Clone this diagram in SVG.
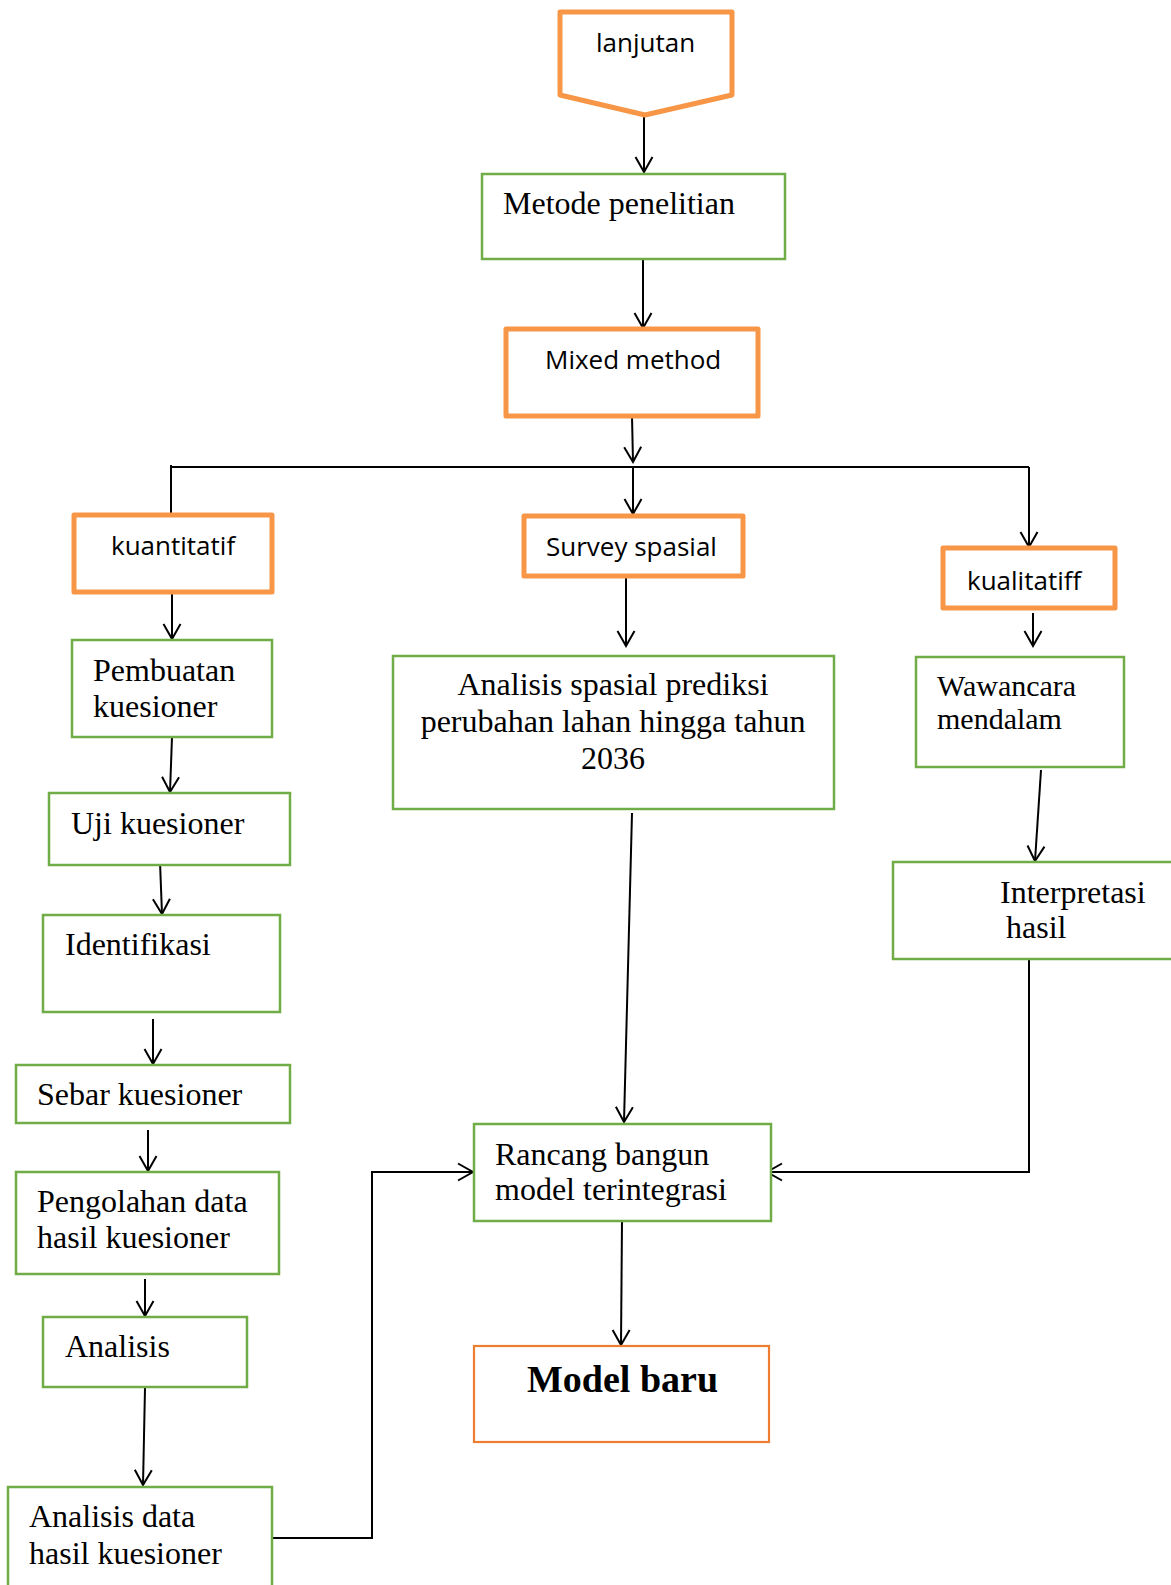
<svg xmlns="http://www.w3.org/2000/svg" width="1171" height="1585" viewBox="0 0 1171 1585">
<defs>
<style>
.bg{fill:#ffffff}
.org{fill:#ffffff;stroke:#F79646;stroke-width:5;stroke-linejoin:round}
.org2{fill:#ffffff;stroke:#ED7D31;stroke-width:2.2}
.grn{fill:#ffffff;stroke:#70AD47;stroke-width:2.5}
.cal{font-family:"Open Sans","Liberation Sans",sans-serif;font-size:26px;fill:#000}
.tnr{font-family:"Liberation Serif","Times New Roman",serif;font-size:32px;fill:#000}
.tnrs{font-family:"Liberation Serif","Times New Roman",serif;font-size:30px;fill:#000}
.bold{font-family:"Liberation Serif","Times New Roman",serif;font-size:38px;font-weight:bold;fill:#000}
.ln{fill:none;stroke:#000;stroke-width:2}
.ar{fill:none;stroke:#000;stroke-width:2;marker-end:url(#arr)}
</style>
<marker id="arr" markerUnits="userSpaceOnUse" viewBox="-17 -10 19 20" markerWidth="19" markerHeight="20" refX="0" refY="0" orient="auto">
<path d="M-15,-8.5 L0,0 L-15,8.5" fill="none" stroke="#000" stroke-width="2"/>
</marker>
</defs>
<rect class="bg" x="0" y="0" width="1171" height="1585"/>

<g id="connectors">
<line class="ar" x1="644" y1="115" x2="644" y2="172"/>
<line class="ar" x1="643" y1="259" x2="643" y2="328"/>
<line class="ar" x1="632" y1="416" x2="633" y2="462"/>
<line class="ln" x1="171" y1="467" x2="1029" y2="467"/>
<line class="ln" x1="171" y1="465" x2="171" y2="513"/>
<line class="ar" x1="633" y1="467" x2="633" y2="514"/>
<line class="ar" x1="1029" y1="467" x2="1029" y2="547"/>
<line class="ar" x1="172" y1="592" x2="172" y2="639"/>
<line class="ar" x1="626" y1="576" x2="626" y2="646"/>
<line class="ar" x1="1033" y1="613" x2="1033" y2="646"/>
<line class="ar" x1="172" y1="737" x2="170" y2="792"/>
<line class="ar" x1="160" y1="862" x2="162" y2="914"/>
<line class="ar" x1="153" y1="1019" x2="153" y2="1064"/>
<line class="ar" x1="148" y1="1130" x2="148" y2="1171"/>
<line class="ar" x1="145" y1="1279" x2="145" y2="1316"/>
<line class="ar" x1="145" y1="1388" x2="143" y2="1485"/>
<line class="ar" x1="1041" y1="770" x2="1035" y2="861"/>
<line class="ar" x1="632" y1="813" x2="624" y2="1122"/>
<polyline class="ar" points="1029,959 1029,1172 767,1172"/>
<polyline class="ar" points="272,1538 372,1538 372,1172 473,1172"/>
<line class="ar" x1="622" y1="1221" x2="621" y2="1345"/>
</g>

<g id="lanjutan">
<polygon class="org" points="560,12 732,12 732,95 645,115 560,95"/>
<text class="cal" x="596" y="52">lanjutan</text>
</g>
<g id="metode">
<rect class="grn" x="482" y="174" width="303" height="85"/>
<text class="tnr" x="503" y="214">Metode penelitian</text>
</g>
<g id="mixed">
<rect class="org" x="506" y="329" width="252" height="87"/>
<text class="cal" x="545" y="369">Mixed method</text>
</g>
<g id="kuantitatif">
<rect class="org" x="74" y="515" width="198" height="77"/>
<text class="cal" x="111" y="555">kuantitatif</text>
</g>
<g id="survey">
<rect class="org" x="524" y="516" width="219" height="60"/>
<text class="cal" x="546" y="556">Survey spasial</text>
</g>
<g id="kualitatiff">
<rect class="org" x="943" y="548" width="172" height="60"/>
<text class="cal" x="967" y="590">kualitatiff</text>
</g>
<g id="pembuatan">
<rect class="grn" x="72" y="640" width="200" height="97"/>
<text class="tnr" x="93" y="681">Pembuatan</text>
<text class="tnr" x="93" y="717">kuesioner</text>
</g>
<g id="analisis-spasial">
<rect class="grn" x="393" y="656" width="441" height="153"/>
<text class="tnr" x="613" y="695" text-anchor="middle">Analisis spasial prediksi</text>
<text class="tnr" x="613" y="732" text-anchor="middle">perubahan lahan hingga tahun</text>
<text class="tnr" x="613" y="769" text-anchor="middle">2036</text>
</g>
<g id="wawancara">
<rect class="grn" x="916" y="657" width="208" height="110"/>
<text class="tnrs" x="937" y="696">Wawancara</text>
<text class="tnrs" x="937" y="729">mendalam</text>
</g>
<g id="uji">
<rect class="grn" x="49" y="793" width="241" height="72"/>
<text class="tnr" x="71" y="834">Uji kuesioner</text>
</g>
<g id="interpretasi">
<rect class="grn" x="893" y="862" width="290" height="97"/>
<text class="tnr" x="1000" y="903">Interpretasi</text>
<text class="tnr" x="1006" y="938">hasil</text>
</g>
<g id="identifikasi">
<rect class="grn" x="43" y="915" width="237" height="97"/>
<text class="tnr" x="65" y="955">Identifikasi</text>
</g>
<g id="sebar">
<rect class="grn" x="16" y="1065" width="274" height="58"/>
<text class="tnr" x="37" y="1105">Sebar kuesioner</text>
</g>
<g id="pengolahan">
<rect class="grn" x="16" y="1172" width="263" height="102"/>
<text class="tnr" x="37" y="1212">Pengolahan data</text>
<text class="tnr" x="37" y="1248">hasil kuesioner</text>
</g>
<g id="rancang">
<rect class="grn" x="474" y="1124" width="297" height="97"/>
<text class="tnr" x="495" y="1165">Rancang bangun</text>
<text class="tnr" x="495" y="1200">model terintegrasi</text>
</g>
<g id="analisis">
<rect class="grn" x="43" y="1317" width="204" height="70"/>
<text class="tnr" x="65" y="1357">Analisis</text>
</g>
<g id="model-baru">
<rect class="org2" x="474" y="1346" width="295" height="96"/>
<text class="bold" x="527" y="1392">Model baru</text>
</g>
<g id="analisis-data">
<rect class="grn" x="8" y="1487" width="264" height="110"/>
<text class="tnr" x="29" y="1527">Analisis data</text>
<text class="tnr" x="29" y="1564">hasil kuesioner</text>
</g>
</svg>
